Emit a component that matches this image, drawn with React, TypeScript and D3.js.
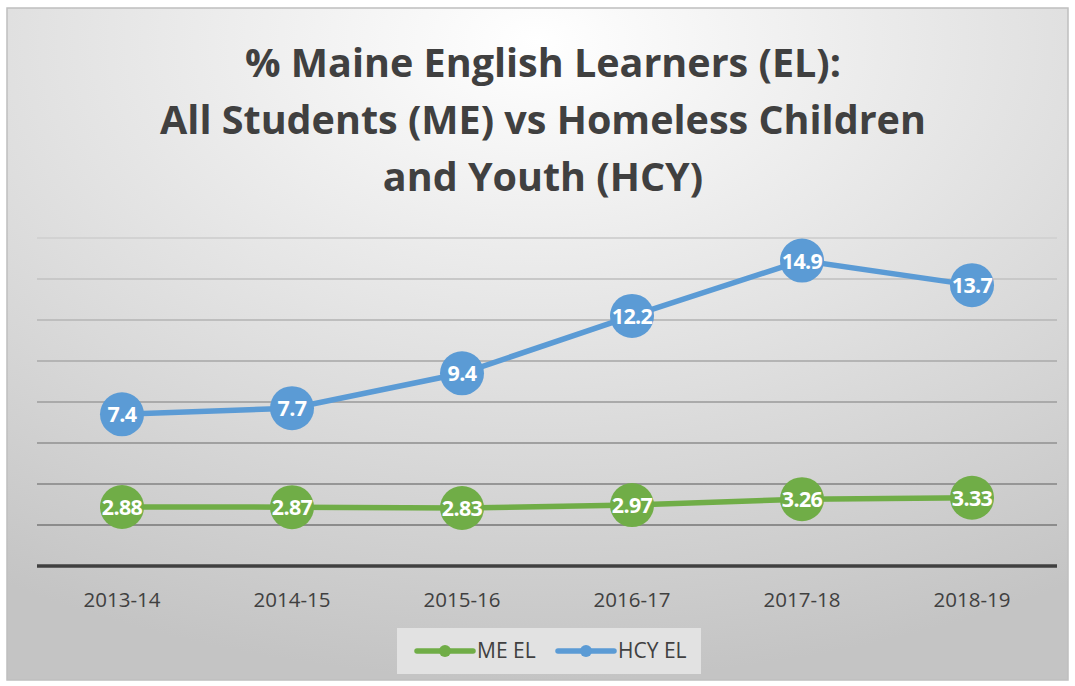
import * as d3 from "d3";

const years = ["2013-14", "2014-15", "2015-16", "2016-17", "2017-18", "2018-19"];
const meEL = [2.88, 2.87, 2.83, 2.97, 3.26, 3.33];
const hcyEL = [7.4, 7.7, 9.4, 12.2, 14.9, 13.7];
const meLabels = ["2.88", "2.87", "2.83", "2.97", "3.26", "3.33"];
const hcyLabels = ["7.4", "7.7", "9.4", "12.2", "14.9", "13.7"];
const yTicks = [2, 4, 6, 8, 10, 12, 14, 16];
const titleLines = [
  "% Maine English Learners (EL):",
  "All Students (ME) vs Homeless Children",
  "and Youth (HCY)",
];

const W = 1075;
const H = 686;
const font = "'Open Sans', sans-serif";

const series = [
  { name: "ME EL", values: meEL, labels: meLabels, color: "#70AD47" },
  { name: "HCY EL", values: hcyEL, labels: hcyLabels, color: "#5B9BD5" },
];

const App = () => {
  const x = d3.scaleBand().domain(years).range([37, 1057]);
  const y = d3.scaleLinear().domain([0, 16]).range([566, 238]);
  const gridColor = d3.scaleLinear<string>().domain([16, 2]).range(["#d2d2d2", "#8c8c8c"]);

  const line = d3
    .line<number>()
    .x((_, i) => (x(years[i]) as number) + x.bandwidth() / 2)
    .y((d) => y(d));

  return (
    <svg width={W} height={H} style={{ position: "absolute", left: 0, top: 0 }}>
      <defs>
        <radialGradient id="bg" cx="50%" cy="5%" r="95%" gradientUnits="objectBoundingBox">
          <stop offset="0%" stopColor="#ffffff" />
          <stop offset="100%" stopColor="#c4c4c4" />
        </radialGradient>
      </defs>
      <rect x={7} y={8} width={1061} height={672} fill="url(#bg)" stroke="#bfbfbf" strokeWidth={1.5} />

      {/* title */}
      {titleLines.map((t, i) => (
        <text
          key={t}
          x={543}
          y={77 + i * 57}
          textAnchor="middle"
          fontFamily={font}
          fontWeight="bold"
          fontSize={39.5}
          fill="#404040"
        >
          {t}
        </text>
      ))}

      {/* grid */}
      {yTicks.map((t) => (
        <line key={t} x1={37} x2={1057} y1={y(t)} y2={y(t)} stroke={gridColor(t)} strokeWidth={2} />
      ))}
      <line x1={37} x2={1057} y1={y(0)} y2={y(0)} stroke="#404040" strokeWidth={3.5} />

      {/* x labels */}
      {years.map((yr) => (
        <text
          key={yr}
          x={(x(yr) as number) + x.bandwidth() / 2}
          y={607}
          textAnchor="middle"
          fontFamily={font}
          fontSize={20.5}
          fill="#404040"
        >
          {yr}
        </text>
      ))}

      {/* series */}
      {series.map((s) => (
        <g key={s.name}>
          <path d={line(s.values) as string} fill="none" stroke={s.color} strokeWidth={5.5} />
          {s.values.map((v, i) => {
            const cx = (x(years[i]) as number) + x.bandwidth() / 2;
            return (
              <g key={i}>
                <circle cx={cx} cy={y(v)} r={22} fill={s.color} />
                <text
                  x={cx}
                  y={y(v) + 8}
                  textAnchor="middle"
                  fontFamily={font}
                  fontWeight="bold"
                  fontSize={21.5}
                  letterSpacing={-0.6}
                  fill="#ffffff"
                >
                  {s.labels[i]}
                </text>
              </g>
            );
          })}
        </g>
      ))}

      {/* legend */}
      <rect x={397} y={628} width={304} height={46} fill="#e2e2e2" />
      {series.map((s, i) => {
        const lx = 417 + i * 141;
        return (
          <g key={s.name}>
            <line x1={lx} x2={lx + 56} y1={651} y2={651} stroke={s.color} strokeWidth={5.5} strokeLinecap="round" />
            <circle cx={lx + 28} cy={651} r={6} fill={s.color} />
            <text x={lx + 60} y={658} fontFamily={font} fontSize={21} fill="#404040">
              {s.name}
            </text>
          </g>
        );
      })}
    </svg>
  );
};

export default App;
